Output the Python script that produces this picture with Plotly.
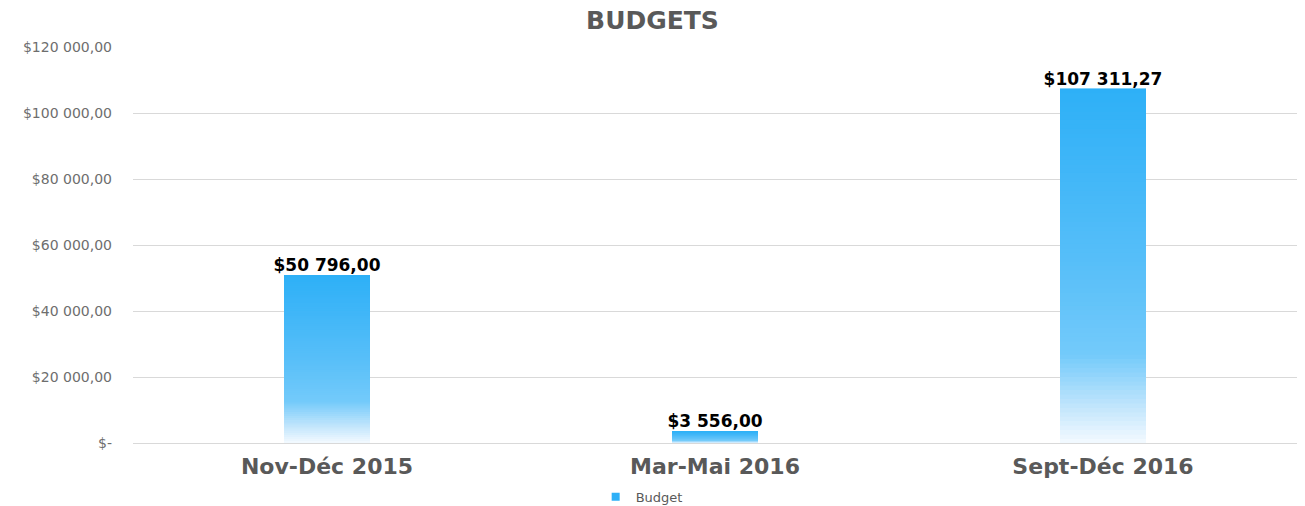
import plotly.graph_objects as go

categories = ["Nov-Déc 2015", "Mar-Mai 2016", "Sept-Déc 2016"]
budget = [50796.00, 3556.00, 107311.27]
value_labels = ["$50 796,00", "$3 556,00", "$107 311,27"]
tick_values = [0, 20000, 40000, 60000, 80000, 100000, 120000]
tick_labels = ["$-", "$20 000,00", "$40 000,00", "$60 000,00", "$80 000,00", "$100 000,00", "$120 000,00"]

FONT = "DejaVu Sans"
GRAY = "#595959"
BLUE = "#2EB0F7"

# gradient: bottom (t=0) nearly white -> top (t=1) saturated blue
stops = [(0.0, (244, 250, 255)), (0.1, (195, 230, 252)), (0.25, (115, 202, 250)),
         (0.5, (88, 191, 249)), (0.75, (66, 183, 248)), (1.0, (46, 176, 247))]

def grad(t):
    for (t0, c0), (t1, c1) in zip(stops[:-1], stops[1:]):
        if t <= t1:
            f = (t - t0) / (t1 - t0)
            return "rgb(%d,%d,%d)" % tuple(round(a + (b - a) * f) for a, b in zip(c0, c1))
    return "rgb(%d,%d,%d)" % stops[-1][1]

N = 80
fig = go.Figure()
for i in range(N):
    col = grad((i + 0.5) / N)
    fig.add_trace(go.Bar(
        x=categories, y=[v / N for v in budget],
        marker=dict(color=col, line=dict(color=col, width=0.6)),
        name="Budget", showlegend=False, hoverinfo="skip",
    ))

# legend entry
fig.add_trace(go.Scatter(
    x=[None], y=[None], mode="markers", name="Budget",
    marker=dict(symbol="square", size=8, color=BLUE), showlegend=True,
))

fig.add_trace(go.Scatter(
    x=categories, y=budget, mode="text", text=value_labels,
    textposition="top center",
    textfont=dict(family=FONT, size=17, color="#000000", weight="bold"),
    showlegend=False, hoverinfo="skip", cliponaxis=False,
))

fig.update_layout(
    width=1305, height=506,
    barmode="stack", bargap=0.78,
    paper_bgcolor="white", plot_bgcolor="white",
    margin=dict(l=133, r=8, t=47, b=63, autoexpand=False),
    title=dict(text="<b>BUDGETS</b>", x=0.5, xanchor="center", y=0.96, yanchor="middle",
               font=dict(family=FONT, size=25, color=GRAY)),
    legend=dict(orientation="h", x=0.437, xanchor="center", yref="container", y=0.018,
                yanchor="middle", font=dict(family=FONT, size=13, color=GRAY), itemwidth=30),
    font=dict(family=FONT),
)
fig.update_xaxes(showgrid=False, showline=False, ticks="", automargin=False, ticklabelstandoff=8,
                 tickfont=dict(family=FONT, size=22, color=GRAY, weight="bold"))
fig.update_yaxes(range=[0, 120000], tickvals=tick_values, ticktext=tick_labels, automargin=False,
                 showgrid=True, gridcolor="#D9D9D9", gridwidth=1, zeroline=True,
                 zerolinecolor="#D9D9D9", zerolinewidth=1, ticks="", ticklabelstandoff=20,
                 tickfont=dict(family=FONT, size=14, color="#6E6E6E"))

fig.write_html("out.html", config={"displayModeBar": False},
               post_script="document.body.style.margin='0';")
